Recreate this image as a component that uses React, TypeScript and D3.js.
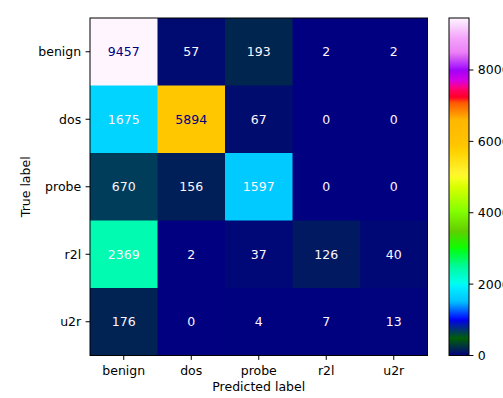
import React from "react";
import * as d3 from "d3";

// Class labels (rows = true label, columns = predicted label)
const classes = ["benign", "dos", "probe", "r2l", "u2r"];

// Confusion matrix counts, one array per true class
const benignRow = [9457, 57, 193, 2, 2];
const dosRow = [1675, 5894, 67, 0, 0];
const probeRow = [670, 156, 1597, 0, 0];
const r2lRow = [2369, 2, 37, 126, 40];
const u2rRow = [176, 0, 4, 7, 13];
const rows = [benignRow, dosRow, probeRow, r2lRow, u2rRow];

// Colorbar tick values
const colorbarTicks = [0, 2000, 4000, 6000, 8000];

// gist_ncar-style colormap segment data: [position, value]
const redSeg: [number, number][] = [
  [0.0, 0.0], [0.3098, 0.0], [0.3725, 0.3993], [0.4235, 0.5003], [0.5333, 1.0],
  [0.7922, 1.0], [0.8471, 0.6218], [0.898, 0.9235], [1.0, 0.9961],
];
const greenSeg: [number, number][] = [
  [0.0, 0.0], [0.051, 0.3722], [0.1059, 0.0], [0.1569, 0.7202], [0.1608, 0.7537],
  [0.1647, 0.7752], [0.2157, 1.0], [0.2588, 0.9804], [0.2706, 0.9804], [0.3176, 1.0],
  [0.3686, 0.8081], [0.4275, 1.0], [0.5216, 1.0], [0.63, 0.7659], [0.698, 0.7178],
  [0.749, 0.3478], [0.7647, 0.0], [0.8431, 0.0], [0.898, 0.5], [0.94, 0.64], [1.0, 0.96],
];
const blueSeg: [number, number][] = [
  [0.0, 0.502], [0.051, 0.0222], [0.1098, 1.0], [0.2039, 1.0], [0.2627, 0.6145],
  [0.3216, 0.0], [0.498, 0.0], [0.5412, 0.1843], [0.6039, 0.0], [0.749, 0.0],
  [0.7843, 0.35], [0.8157, 0.9], [0.8627, 1.0], [0.8824, 0.949], [0.9098, 0.9725], [1.0, 1.0],
];

const channel = (seg: [number, number][]) =>
  d3.scaleLinear().domain(seg.map((s) => s[0])).range(seg.map((s) => s[1])).clamp(true);
const rCh = channel(redSeg);
const gCh = channel(greenSeg);
const bCh = channel(blueSeg);
const gistNcar = (t: number) =>
  d3.rgb(rCh(t) * 255, gCh(t) * 255, bCh(t) * 255).formatHex();

const FONT = "'DejaVu Sans', sans-serif";
const FS = 12.5;
const TICK = 4.4;

export default function App() {
  const allValues = rows.flat();
  const vmin = d3.min(allValues) as number;
  const vmax = d3.max(allValues) as number;
  const norm = d3.scaleLinear().domain([vmin, vmax]).range([0, 1]);
  const color = (v: number) => gistNcar(norm(v));
  const thresh = (vmin + vmax) / 2;
  const textLow = gistNcar(1);
  const textHigh = gistNcar(0);

  const left = 90, right = 427.5, top = 18, bottom = 355.5;
  const x = d3.scaleBand<string>().domain(classes).range([left, right]).padding(0);
  const y = d3.scaleBand<string>().domain(classes).range([top, bottom]).padding(0);

  const cbLeft = 449, cbRight = 469;
  const cbY = d3.scaleLinear().domain([vmin, vmax]).range([bottom, top]);
  const stops = d3.range(0, 257).map((i) => i / 256);

  return (
    <svg
      width={503}
      height={398}
      style={{ position: "absolute", left: 0, top: 0, background: "#fff" }}
      fontFamily={FONT}
    >
      <defs>
        <linearGradient id="cbar" x1="0" y1="1" x2="0" y2="0">
          {stops.map((t) => (
            <stop key={t} offset={t} stopColor={gistNcar(t)} />
          ))}
        </linearGradient>
      </defs>

      {/* matrix cells */}
      {rows.map((row, i) =>
        row.map((v, j) => (
          <g key={`${i}-${j}`}>
            <rect
              x={x(classes[j])}
              y={y(classes[i])}
              width={x.bandwidth() + 0.5}
              height={y.bandwidth() + 0.5}
              fill={color(v)}
            />
            <text
              x={(x(classes[j]) as number) + x.bandwidth() / 2}
              y={(y(classes[i]) as number) + y.bandwidth() / 2}
              textAnchor="middle"
              dominantBaseline="central"
              fontSize={FS}
              fill={v < thresh ? textLow : textHigh}
            >
              {v}
            </text>
          </g>
        ))
      )}
      <rect x={left} y={top} width={right - left} height={bottom - top} fill="none" stroke="#000" strokeWidth={1} />

      {/* x axis */}
      {classes.map((c) => {
        const cx = (x(c) as number) + x.bandwidth() / 2;
        return (
          <g key={`xt-${c}`}>
            <line x1={cx} x2={cx} y1={bottom} y2={bottom + TICK} stroke="#000" strokeWidth={1} />
            <text x={cx} y={bottom + 2 * TICK + 1} textAnchor="middle" dominantBaseline="hanging" fontSize={FS} fill="#000">
              {c}
            </text>
          </g>
        );
      })}
      <text x={(left + right) / 2} y={bottom + 26} textAnchor="middle" dominantBaseline="hanging" fontSize={FS} fill="#000">
        Predicted label
      </text>

      {/* y axis */}
      {classes.map((c) => {
        const cy = (y(c) as number) + y.bandwidth() / 2;
        return (
          <g key={`yt-${c}`}>
            <line x1={left - TICK} x2={left} y1={cy} y2={cy} stroke="#000" strokeWidth={1} />
            <text x={left - 2 * TICK} y={cy} textAnchor="end" dominantBaseline="central" fontSize={FS} fill="#000">
              {c}
            </text>
          </g>
        );
      })}
      <text
        transform={`translate(${25},${(top + bottom) / 2}) rotate(-90)`}
        textAnchor="middle"
        dominantBaseline="central"
        fontSize={FS}
        fill="#000"
      >
        True label
      </text>

      {/* colorbar */}
      <rect x={cbLeft} y={top} width={cbRight - cbLeft} height={bottom - top} fill="url(#cbar)" />
      <rect x={cbLeft} y={top} width={cbRight - cbLeft} height={bottom - top} fill="none" stroke="#000" strokeWidth={1} />
      {colorbarTicks.map((t) => (
        <g key={`cb-${t}`}>
          <line x1={cbRight} x2={cbRight + TICK} y1={cbY(t)} y2={cbY(t)} stroke="#000" strokeWidth={1} />
          <text x={cbRight + 2 * TICK} y={cbY(t)} dominantBaseline="central" fontSize={FS} fill="#000">
            {t}
          </text>
        </g>
      ))}
    </svg>
  );
}
